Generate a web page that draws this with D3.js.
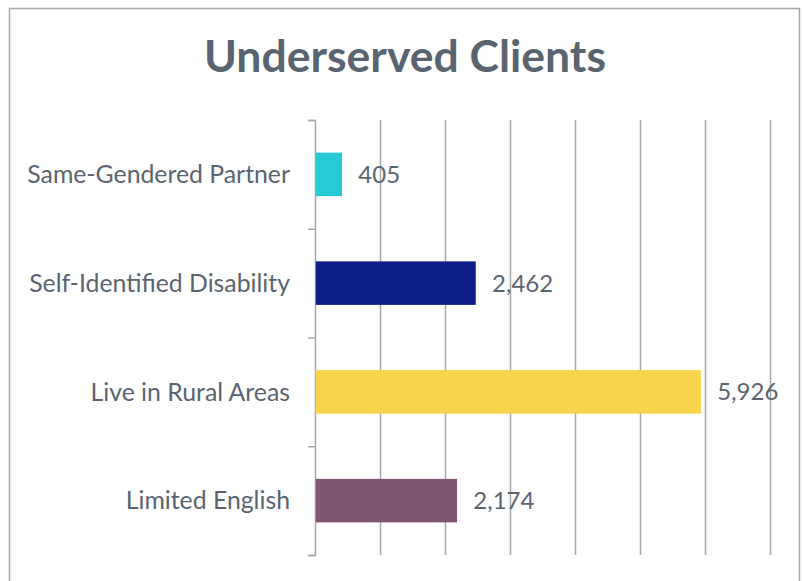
<!DOCTYPE html>
<html>
<head>
<meta charset="utf-8">
<script src="https://cdn.jsdelivr.net/npm/d3@7"></script>
<style>
  body { margin: 0; background: #fff; }
  svg { display: block; font-family: Lato, "Open Sans", sans-serif; }
  .grid line { stroke: #a4a7ab; stroke-width: 1.5; }
  .grid .domain { display: none; }
  .cat-axis line, .cat-axis path { stroke: #a4a7ab; stroke-width: 1.5; }
</style>
</head>
<body>
<script>
// data
const categories = ['Same-Gendered Partner', 'Self-Identified Disability', 'Live in Rural Areas', 'Limited English'];
const values = [405, 2462, 5926, 2174];
const colors = ['#26c9d4', '#0e1c8c', '#f7d34e', '#825573'];
const xTicks = [0, 1000, 2000, 3000, 4000, 5000, 6000, 7000];

const margin = {top: 120, right: 34, bottom: 26, left: 315};
const width = 804 - margin.left - margin.right;   // 455
const height = 581 - margin.top - margin.bottom;  // 435
const textColor = '#5a6470';

const root = d3.select('body').append('svg')
    .attr('width', 804)
    .attr('height', 581);

// chart frame
root.append('rect')
    .attr('x', 9.5).attr('y', 8.5)
    .attr('width', 790).attr('height', 620)
    .attr('fill', 'none')
    .attr('stroke', '#a4a7ab')
    .attr('stroke-width', 1.5);

root.append('text')
    .attr('x', 405).attr('y', 72)
    .attr('text-anchor', 'middle')
    .attr('font-size', '44.5px')
    .attr('font-weight', 'bold')
    .attr('fill', textColor)
    .text('Underserved Clients');

const svg = root.append('g')
    .attr('transform', 'translate(' + margin.left + ',' + margin.top + ')');

const xScale = d3.scaleLinear().domain([0, 7000]).range([0, width]);
const yBand = d3.scaleBand().domain(categories).range([0, height]).paddingInner(0).paddingOuter(0);
const yEdge = d3.scaleLinear().domain([0, categories.length]).range([0, height]);

// vertical gridlines
svg.append('g')
    .attr('class', 'grid')
    .attr('transform', 'translate(0,' + height + ')')
    .call(d3.axisBottom(xScale).tickValues(xTicks.slice(1)).tickSize(-height).tickFormat(''));

// category axis, ticks on band edges
svg.append('g')
    .attr('class', 'cat-axis')
    .call(d3.axisLeft(yEdge).tickValues(d3.range(categories.length + 1)).tickSize(7).tickSizeOuter(7).tickFormat(''));

const barH = yBand.bandwidth() * 0.4;

const rows = svg.selectAll('g.row')
    .data(categories.map(function(c, i) { return {cat: c, value: values[i], color: colors[i]}; }))
    .enter().append('g')
    .attr('class', 'row')
    .attr('transform', function(d) { return 'translate(0,' + (yBand(d.cat) + yBand.bandwidth() / 2) + ')'; });

rows.append('rect')
    .attr('x', xScale(0) + 0.75)
    .attr('y', -barH / 2)
    .attr('width', function(d) { return xScale(d.value) - xScale(0); })
    .attr('height', barH)
    .attr('fill', function(d) { return d.color; });

rows.append('text')
    .attr('x', -25)
    .attr('dy', '0.35em')
    .attr('text-anchor', 'end')
    .attr('font-size', '24.8px')
    .attr('fill', textColor)
    .text(function(d) { return d.cat; });

rows.append('text')
    .attr('x', function(d) { return xScale(d.value) + 17; })
    .attr('dy', '0.35em')
    .attr('font-size', '24px')
    .attr('fill', textColor)
    .text(function(d) { return d3.format(',')(d.value); });
</script>
</body>
</html>
